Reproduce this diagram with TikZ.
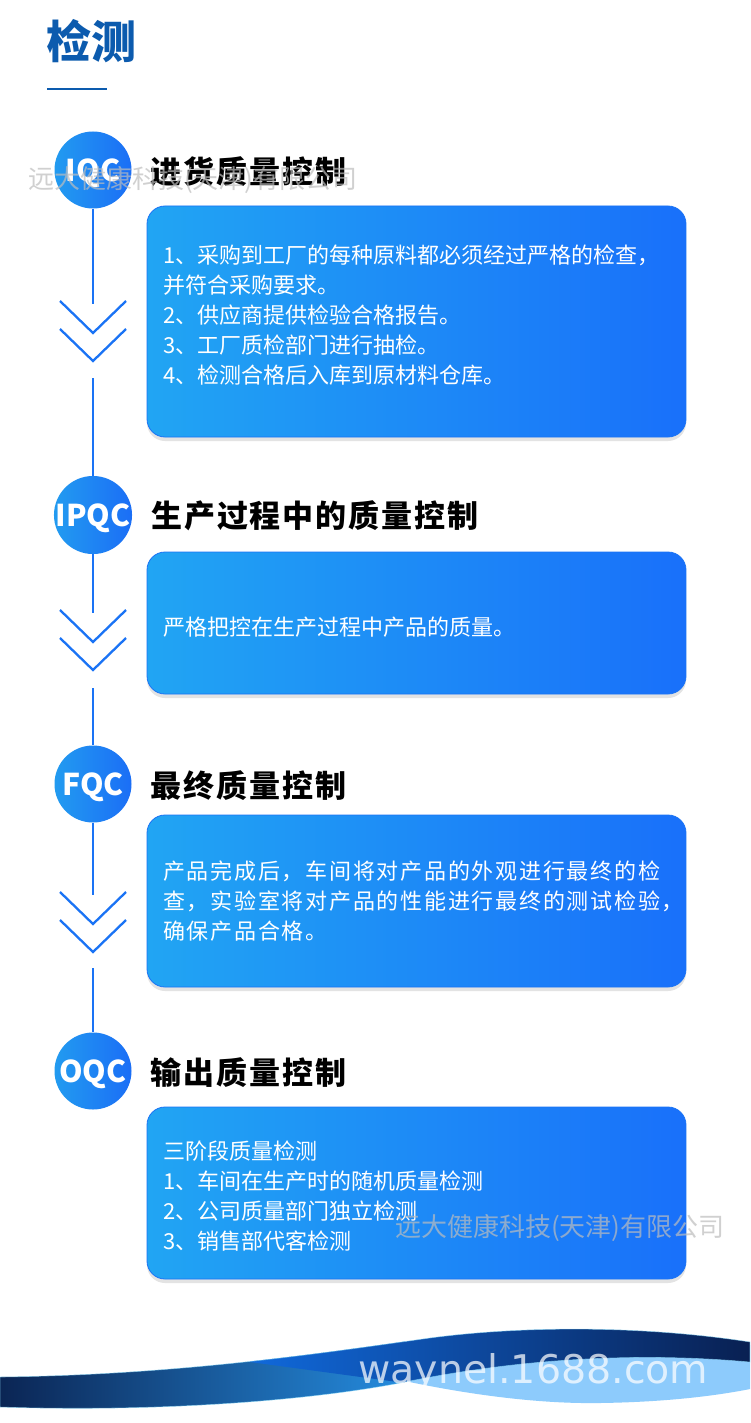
\documentclass[tikz,border=0pt]{standalone}
\usepackage{fontspec}
\newfontfamily\cjkfont{Noto Sans CJK SC}
\newfontfamily\cjkhead{Noto Sans CJK SC}[LetterSpace=6]
\newfontfamily\cjkwide{Noto Sans CJK SC}[LetterSpace=8]
\newfontfamily\sitefont{DejaVu Sans}
\usetikzlibrary{positioning, shadows}
\definecolor{titleblue}{RGB}{12, 91, 174}
\definecolor{flowblue}{RGB}{26, 115, 245}
\definecolor{dotL}{RGB}{34, 155, 240}
\definecolor{dotR}{RGB}{27, 110, 246}
\definecolor{boxL}{RGB}{33, 165, 243}
\definecolor{boxR}{RGB}{25, 112, 250}
\definecolor{waveNavy}{RGB}{11, 37, 84}
\definecolor{waveMid}{RGB}{37, 140, 222}
\definecolor{waveBlue}{RGB}{16, 105, 219}
\definecolor{waveDeep}{RGB}{9, 32, 82}
\definecolor{waveLight}{RGB}{141, 203, 252}
\newcommand\ribbonpath{(0,1377) .. controls (180,1375) and (330,1352) .. (430,1338) .. controls (520,1326) and (640,1325) .. (750,1342) -- (750,1362) .. controls (640,1352) and (520,1358) .. (400,1383) .. controls (300,1402) and (150,1412) .. (0,1407) -- cycle}
\tikzset{
  qcdot/.style={circle, minimum size=77pt, inner sep=0pt, text depth=0pt, left color=dotL, right color=dotR, text=white, font=\cjkfont\bfseries\fontsize{30}{30}\selectfont},
  qchead/.style={inner sep=0pt, text=black, font=\cjkhead\bfseries\fontsize{31}{31}\selectfont},
  qcbox/.style={rounded corners=18pt, left color=boxL, right color=boxR, draw=flowblue, line width=0.8pt, text=white, text width=507pt, align=left, inner xsep=16pt, inner ysep=0pt, font=\cjkfont\fontsize{22}{30}\selectfont, drop shadow={shadow xshift=0pt, shadow yshift=-4pt, opacity=0.22}},
  flowline/.style={flowblue, line width=2.3pt},
  watermark/.style={anchor=west, inner sep=0pt, text=black!26, text opacity=0.7, font=\cjkfont\fontsize{26}{26}\selectfont}
}

\begin{document}
\begin{tikzpicture}[x=1pt, y=-1pt]
  \useasboundingbox[fill=white] (0,0) rectangle (750,1423);

  \node[anchor=west, inner sep=0pt, text=titleblue, font=\cjkfont\bfseries\fontsize{45}{45}\selectfont] (title) at (46,41) {检测};
  \draw[titleblue, line width=2.5pt] (47,89) -- (107,89);

  \coordinate (g1a) at (93,304);
  \coordinate (g1b) at (93,378);
  \coordinate (g2a) at (93,613);
  \coordinate (g2b) at (93,688);
  \coordinate (g3a) at (93,895);
  \coordinate (g3b) at (93,968);

  \node[qcdot] (iqc) at (93,170) {IQC};
  \node[qcdot] (ipqc) at (93,515) {IPQC};
  \node[qcdot] (fqc) at (93,784) {FQC};
  \node[qcdot] (oqc) at (93,1071) {OQC};

  \draw[flowline] (iqc.south) -- (g1a);
  \draw[flowline] (g1b) -- (ipqc.north);
  \draw[flowline] (ipqc.south) -- (g2a);
  \draw[flowline] (g2b) -- (fqc.north);
  \draw[flowline] (fqc.south) -- (g3a);
  \draw[flowline] (g3b) -- (oqc.north);
  \foreach \y in {301,610,892} {
    \draw[flowline] (60,\y) -- (93,\y+32) -- (126,\y);
    \draw[flowline] (60,\y+28) -- (93,\y+60) -- (126,\y+28);
  }

  \node[qchead, right=19pt of iqc, yshift=-2pt] (h1) {进货质量控制};
  \node[qchead, right=19pt of ipqc, yshift=-1pt] (h2) {生产过程中的质量控制};
  \node[qchead, right=19pt of fqc, yshift=-2pt] (h3) {最终质量控制};
  \node[qchead, right=19pt of oqc, yshift=-2pt] (h4) {输出质量控制};

  \node[qcbox, minimum height=231pt] (box1) at (416.5,321.5) {1、采购到工厂的每种原料都必须经过严格的检查，\\并符合采购要求。\\2、供应商提供检验合格报告。\\3、工厂质检部门进行抽检。\\4、检测合格后入库到原材料仓库。\rule[-15pt]{0pt}{0pt}};
  \node[qcbox, minimum height=142pt] (box2) at (416.5,623) {\rule{0pt}{27pt}严格把控在生产过程中产品的质量。};
  \node[qcbox, minimum height=172pt, font=\cjkwide\fontsize{22}{30}\selectfont] (box3) at (416.5,901) {产品完成后，车间将对产品的外观进行最终的检\\查，实验室将对产品的性能进行最终的测试检验，\\确保产品合格。};
  \node[qcbox, minimum height=172pt] (box4) at (416.5,1193) {\rule{0pt}{25pt}三阶段质量检测\\1、车间在生产时的随机质量检测\\2、公司质量部门独立检测\\3、销售部代客检测};

  \fill[waveLight] (400,1380) .. controls (470,1395) and (540,1404) .. (600,1403) .. controls (670,1402) and (720,1395) .. (750,1389) -- (750,1345) -- (400,1365) -- cycle;
  \begin{scope}
    \clip \ribbonpath;
    \shade[left color=waveNavy, right color=waveMid] (0,1320) rectangle (405,1420);
    \shade[left color=waveBlue, right color=waveDeep] (250,1300) -- (250,1362) -- (405,1383) -- (405,1423) -- (750,1423) -- (750,1300) -- cycle;
  \end{scope}
  \draw[cyan!45!white, line width=0.6pt, opacity=0.6] \ribbonpath;
  \node[anchor=base west, inner sep=0pt, text=white, text opacity=0.72, font=\sitefont\fontsize{39.5}{39.5}\selectfont] (site) at (358,1383) {waynel.1688.com};

  \node[watermark] (mark1) at (28,180) {远大健康科技(天津)有限公司};
  \node[watermark] (mark2) at (395,1228) {远大健康科技(天津)有限公司};
\end{tikzpicture}
\end{document}
